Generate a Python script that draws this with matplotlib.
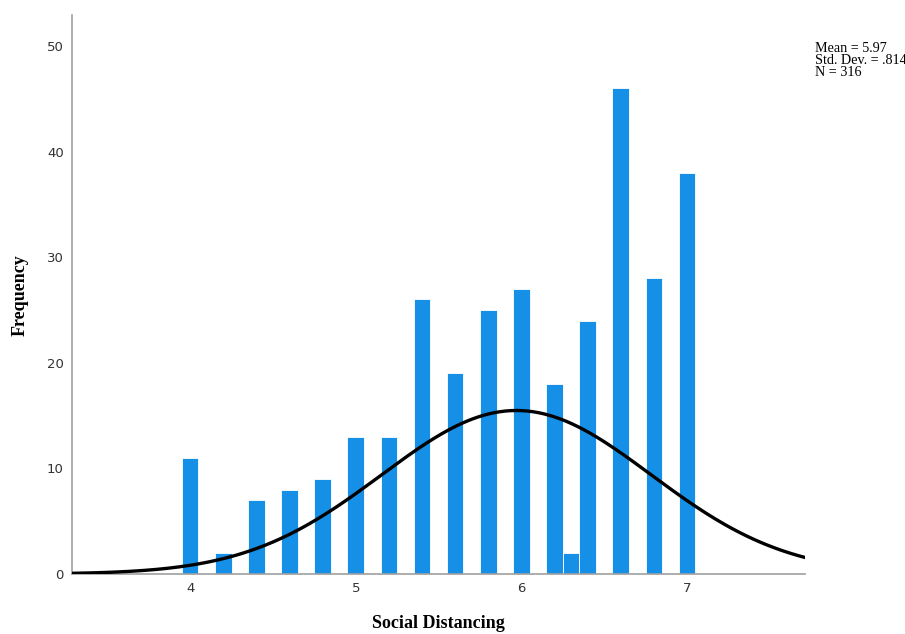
import numpy as np
import matplotlib
matplotlib.use('Agg')
import matplotlib.pyplot as plt

# histogram bins (centre of bin, bin width 0.1) and counts
bin_centers = [4.0, 4.2, 4.4, 4.6, 4.8, 5.0, 5.2, 5.4, 5.6, 5.8, 6.0, 6.2, 6.3, 6.4, 6.6, 6.8, 7.0]
counts = [11, 2, 7, 8, 9, 13, 13, 26, 19, 25, 27, 18, 2, 24, 46, 28, 38]
bin_width = 0.1

# summary stats shown in the corner
mean = 5.97
sd = 0.814
n = 316

x_ticks = [4, 5, 6, 7]
y_ticks = [0, 10, 20, 30, 40, 50]

fig = plt.figure(figsize=(9.05, 6.34), dpi=100)
ax = fig.add_axes([0.0796, 0.0946, 0.81, 0.881])

ax.bar(bin_centers, counts, width=bin_width, color='#1590e6',
       edgecolor='white', linewidth=0.6, zorder=2)

# fitted normal curve from mean / sd / N
xs = np.linspace(3.287, 7.713, 400)
ys = n * bin_width / (sd * np.sqrt(2 * np.pi)) * np.exp(-0.5 * ((xs - mean) / sd) ** 2)
ax.plot(xs, ys, color='black', linewidth=2.4, zorder=3, solid_capstyle='round')

ax.set_xlim(3.287, 7.713)
ax.set_ylim(0, 52.9)
ax.set_xticks(x_ticks)
ax.set_yticks(y_ticks)
ax.tick_params(length=0, labelsize=9.5, labelcolor='#333333')
ax.tick_params(axis='x', pad=6)
ax.tick_params(axis='y', pad=6)

for side in ['top', 'right']:
    ax.spines[side].set_visible(False)
for side in ['left', 'bottom']:
    ax.spines[side].set_color('#a0a0a0')
    ax.spines[side].set_linewidth(1.2)

ax.set_ylabel('Frequency', family='Liberation Serif', fontweight='bold',
              fontsize=13, va='center')
ax.yaxis.set_label_coords(-0.071, 0.5)
ax.set_xlabel('Social Distancing', family='Liberation Serif', fontweight='bold',
              fontsize=13, va='center')
ax.xaxis.set_label_coords(0.5, -0.088)

fig.text(815 / 905, 1 - 42 / 634,
         'Mean = %.2f\nStd. Dev. = .%d\nN = %d' % (mean, round(sd * 1000), n),
         family='Liberation Serif', fontsize=10.2, va='top', ha='left',
         linespacing=0.9)

fig.savefig('out.png', dpi=100)
